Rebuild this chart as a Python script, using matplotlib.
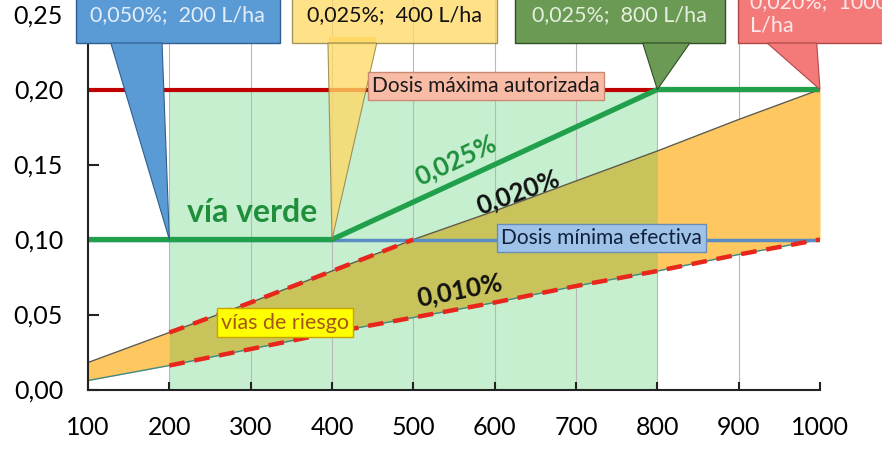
import numpy as np
import matplotlib.pyplot as plt
from matplotlib.patches import Polygon, Rectangle

# Datos
volumen = [100, 200, 300, 400, 500, 600, 700, 800, 900, 1000]   # L/ha
dosis_010 = [0.006, 0.016, 0.027, 0.038, 0.048, 0.058, 0.069, 0.079, 0.090, 0.100]
dosis_020 = [0.018, 0.038, 0.058, 0.079, 0.100, 0.119, 0.139, 0.159, 0.180, 0.200]
via_x = [100, 400, 800, 1000]
via_y = [0.10, 0.10, 0.20, 0.20]
dosis_max = 0.20
dosis_min = 0.10
zona_verde = (200, 800)
riesgo_020_hasta = 500

y_ticks = [0.00, 0.05, 0.10, 0.15, 0.20, 0.25]
y_tick_labels = ['0,00', '0,05', '0,10', '0,15', '0,20', '0,25']

# Globos: texto, punto señalado (volumen, dosis)
globo_textos = ['0,050%;  200 L/ha', '0,025%;  400 L/ha', '0,025%;  800 L/ha', '0,020%;  1000\nL/ha']
globo_puntos = [(200, 0.10), (400, 0.10), (800, 0.20), (1000, 0.20)]

plt.rcParams['font.family'] = ['Lato', 'DejaVu Sans']

fig = plt.figure(figsize=(8.82, 4.5), dpi=100)
ax = fig.add_axes([0.0998, 0.1344, 0.8299, 0.8667])
ax.set_xlim(100, 1000)
ax.set_ylim(0, 0.26)

v = np.array(volumen)
d1 = np.array(dosis_010)
d2 = np.array(dosis_020)

# zona verde
ax.fill_between([zona_verde[0], zona_verde[1]], 0, dosis_max, color='#c6efd0', lw=0, zorder=1)
# rejilla
for xv in volumen[1:-1]:
    ax.axvline(xv, color='#b8b8b8', lw=0.8, zorder=1.5)
# zona de riesgo (naranja) y solape con verde (oliva)
ax.fill_between(v, d1, d2, color='#fec760', lw=0, zorder=2)
m = (v >= zona_verde[0]) & (v <= zona_verde[1])
ax.fill_between(v[m], d1[m], d2[m], color='#c9c35c', lw=0, zorder=2.1)

# lineas finas
ax.plot(v, d2, color='#5e5a45', lw=1.0, zorder=3)
ax.plot(v, d1, color='#3f8a8a', lw=1.0, zorder=3)

# dosis máxima y mínima
ax.plot([100, 1000], [dosis_max, dosis_max], color='#c00000', lw=3, zorder=3.2, solid_capstyle='butt')
ax.plot([100, 1000], [dosis_min, dosis_min], color='#5b8cc4', lw=2.5, zorder=3.2, solid_capstyle='butt')

# tramos de riesgo discontinuos
m1 = v >= zona_verde[0]
ax.plot(v[m1], d1[m1], color='#e8261c', lw=3.2, ls=(0, (3.5, 2.2)), zorder=3.5)
m2 = (v >= zona_verde[0]) & (v <= riesgo_020_hasta)
ax.plot(v[m2], d2[m2], color='#e8261c', lw=3.2, ls=(0, (3.5, 2.2)), zorder=3.5)

# vía verde
ax.plot(via_x, via_y, color='#21a04c', lw=3.8, zorder=4, solid_joinstyle='miter')

# globos
globo_caja = [(85, 336), (351, 603), (625, 883), (899, 1100)]
globo_base = [(128, 191), (395, 455), (782, 840), (935, 996)]
globo_color = ['#5b9bd5', '#ffd966', '#6b9a55', '#f47a7a']
globo_borde = ['#2f5f8f', '#8a7a40', '#2f4f25', '#b04848']
globo_alpha = [1.0, 0.78, 1.0, 1.0]
globo_texto_color = ['#e4eefa', '#111111', '#e6efdf', '#fde8e8']
y_caja = 0.231
for i in range(4):
    x0, x1 = globo_caja[i]
    b0, b1 = globo_base[i]
    px, py = globo_puntos[i]
    ax.add_patch(Rectangle((x0, y_caja), x1 - x0, 0.05, facecolor=globo_color[i],
                           edgecolor=globo_borde[i], lw=1, alpha=globo_alpha[i],
                           zorder=6, clip_on=False))
    ax.add_patch(Polygon([(b0, y_caja), (px, py), (b1, y_caja)], closed=True,
                         facecolor=globo_color[i], edgecolor=globo_borde[i], lw=0.8,
                         alpha=globo_alpha[i], zorder=6, clip_on=False))
    ax.add_patch(Polygon([(b0 + 1, y_caja + 0.001), (b1 - 1, y_caja + 0.001), (b1 - 1, y_caja + 0.004), (b0 + 1, y_caja + 0.004)],
                         closed=True, facecolor=globo_color[i], lw=0, zorder=6.1, clip_on=False))
    if i < 3:
        ax.text((x0 + x1) / 2, 0.2497, globo_textos[i], ha='center', va='center',
                fontsize=15.5, color=globo_texto_color[i], zorder=7, clip_on=False)
    else:
        ax.text(x0 + 15, 0.2505, globo_textos[i], ha='left', va='center', linespacing=1.25,
                fontsize=15.5, color=globo_texto_color[i], zorder=7, clip_on=False)

# etiquetas
ax.text(589, 0.2023, 'Dosis máxima autorizada', ha='center', va='center', fontsize=15,
        color='#1a1a1a', zorder=8,
        bbox=dict(boxstyle='square,pad=0.2', facecolor='#f8bba5', edgecolor='#c88a72', lw=1))
ax.text(731, 0.101, 'Dosis mínima efectiva', ha='center', va='center', fontsize=15,
        color='#10203a', zorder=8,
        bbox=dict(boxstyle='square,pad=0.2', facecolor='#9fc3e8', edgecolor='#6a8db5', lw=1))
ax.text(342, 0.0445, 'vías de riesgo', ha='center', va='center', fontsize=15.5,
        color='#a5561a', zorder=8,
        bbox=dict(boxstyle='square,pad=0.2', facecolor='#ffff00', edgecolor='#c9a400', lw=1))
ax.text(302, 0.118, 'vía verde', ha='center', va='center', fontsize=23, fontweight='bold',
        color='#1f8f3c', zorder=8)
ax.text(552, 0.153, '0,025%', ha='center', va='center', fontsize=18.5, fontweight='bold',
        color='#1f8f3c', rotation=25, zorder=8)
ax.text(629, 0.1317, '0,020%', ha='center', va='center', fontsize=18.5, fontweight='bold',
        color='#111111', rotation=20, zorder=8)
ax.text(557, 0.0663, '0,010%', ha='center', va='center', fontsize=18.5, fontweight='bold',
        color='#111111', rotation=11, zorder=8)

# ejes
ax.set_xticks(volumen)
ax.set_xticklabels([str(x) for x in volumen])
ax.set_yticks(y_ticks)
ax.set_yticklabels(y_tick_labels)
ax.tick_params(axis='both', direction='in', labelsize=18, color='#222222', width=1.5)
ax.tick_params(axis='y', length=8, pad=18)
ax.tick_params(axis='x', length=6, pad=19)
for s in ['top', 'right']:
    ax.spines[s].set_visible(False)
for s in ['left', 'bottom']:
    ax.spines[s].set_color('#222222')
    ax.spines[s].set_linewidth(1.5)
    ax.spines[s].set_zorder(5)

fig.savefig('out.png', dpi=100)
